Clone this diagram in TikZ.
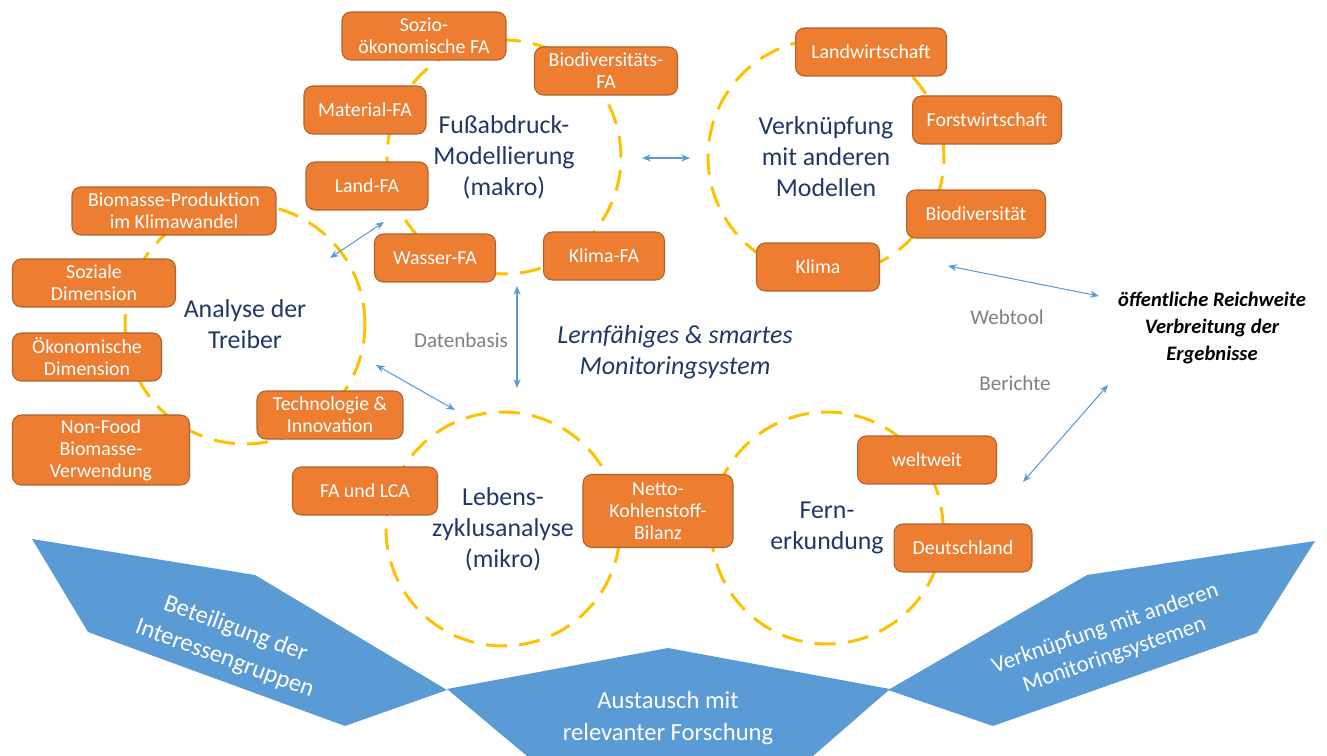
\documentclass[tikz,border=0pt]{standalone}
\usepackage{fontspec}
\setmainfont{Carlito}
\usetikzlibrary{arrows.meta}
\definecolor{navy}{HTML}{1F3864}
\definecolor{amber}{HTML}{FFC000}
\definecolor{orng}{HTML}{ED7D31}
\definecolor{orngline}{HTML}{B0622E}
\definecolor{sky}{HTML}{5B9BD5}
\definecolor{slate}{HTML}{808080}

\begin{document}
\begin{tikzpicture}[x=0.02cm,y=-0.02cm,
    >={Stealth[length=5pt,width=4pt]},
    ring/.style={circle,draw=amber,line width=1.7pt,
      dash pattern=on 12pt off 7pt,inner sep=0pt,text=navy,
      align=center,font=\fontsize{14.7}{17.6}\selectfont},
    fa/.style={draw=orngline,fill=orng,rounded corners=5pt,
      text=white,align=center,minimum height=0.96cm,inner sep=2pt,
      line width=0.6pt,font=\fontsize{11.3}{12.6}\selectfont},
    link/.style={sky,line width=0.6pt,<->},
    note/.style={text=slate,font=\fontsize{12}{14}\selectfont},
    bandtext/.style={text=white,align=center,
      font=\fontsize{14}{18}\selectfont}]
  \useasboundingbox (0,0) rectangle (1327,756);
  % dashed rings with their titles
  \node[ring,minimum size=4.68cm] (fuss) at (504,157)
    {Fußabdruck-\\Modellierung\\(makro)};
  \node[ring,minimum size=4.72cm] (verk) at (826,157)
    {Verknüpfung\\mit anderen\\Modellen};
  \node[ring,minimum size=4.8cm] (analyse) at (245,324)
    {Analyse der\\Treiber};
  \node[ring,minimum size=4.68cm] (lebens) at (503,529)
    {Lebens-\\zyklusanalyse\\(mikro)};
  \node[ring,minimum size=4.64cm] (fern) at (827,528)
    {Fern-\\erkundung};
  % boxes
  \node[fa,minimum width=3.28cm] (sozio) at (424,36) {Sozio-\\ökonomische FA};
  \node[fa,minimum width=2.86cm] (biofa) at (606,71) {Biodiversitäts-\\FA};
  \node[fa,minimum width=2.44cm] (material) at (365,110) {Material-FA};
  \node[fa,minimum width=2.44cm] (land) at (367,186) {Land-FA};
  \node[fa,minimum width=2.42cm] (wasser) at (435,258) {Wasser-FA};
  \node[fa,minimum width=2.42cm] (klimafa) at (604,256) {Klima-FA};
  \node[fa,minimum width=3.02cm] (landw) at (871,52) {Landwirtschaft};
  \node[fa,minimum width=2.98cm] (forst) at (987,120) {Forstwirtschaft};
  \node[fa,minimum width=2.78cm] (biodiv) at (976,214) {Biodiversität};
  \node[fa,minimum width=2.46cm] (klima) at (818,267) {Klima};
  \node[fa,minimum width=4.08cm] (biomasse) at (174,211)
    {Biomasse-Produktion\\im Klimawandel};
  \node[fa,minimum width=3.26cm] (sozial) at (94,283) {Soziale\\Dimension};
  \node[fa,minimum width=2.98cm] (oekon) at (87,357) {Ökonomische\\Dimension};
  \node[fa,minimum width=3.54cm,minimum height=1.4cm] (nonfood) at (101,450)
    {Non-Food\\Biomasse-\\Verwendung};
  \node[fa,minimum width=2.92cm] (techno) at (330,415) {Technologie \&\\Innovation};
  \node[fa,minimum width=2.9cm] (falca) at (365,491) {FA und LCA};
  \node[fa,minimum width=3.0cm,minimum height=1.46cm] (netto) at (658,511)
    {Netto-\\Kohlenstoff-\\Bilanz};
  \node[fa,minimum width=2.78cm] (welt) at (927,460) {weltweit};
  \node[fa,minimum width=2.76cm] (de) at (963,548) {Deutschland};
  % free texts
  \node[text=navy,align=center,font=\itshape\fontsize{14.8}{17.6}\selectfont]
    (smart) at (675,352) {Lernfähiges \& smartes\\Monitoringsystem};
  \node[align=center,font=\bfseries\itshape\fontsize{11.7}{15.2}\selectfont]
    (reach) at (1212,328) {öffentliche Reichweite\\Verbreitung der\\Ergebnisse};
  \node[note] (daten) at (461,340) {Datenbasis};
  \node[note] (webtool) at (1007,317) {Webtool};
  \node[note] (berichte) at (1015,383) {Berichte};
  % arrows
  \coordinate (fussR) at (642,158);  \coordinate (verkL) at (690,158);
  \coordinate (analyseT) at (330,258); \coordinate (fussL) at (384,222);
  \coordinate (fussB) at (517,286);  \coordinate (lebensT) at (517,388);
  \coordinate (analyseR) at (376,365); \coordinate (lebensL) at (455,410);
  \coordinate (verkB) at (948,266);  \coordinate (reachL) at (1099,296);
  \coordinate (reachB) at (1108,385); \coordinate (fernR) at (1023,482);
  \draw[link] (fussR) -- (verkL);
  \draw[link] (analyseT) -- (fussL);
  \draw[link] (fussB) -- (lebensT);
  \draw[link] (analyseR) -- (lebensL);
  \draw[link] (verkB) -- (reachL);
  \draw[link] (reachB) -- (fernR);
  % blue bands at the bottom
  \fill[sky] (32,539) -- (255,575) -- (447,690) -- (345,726) -- (88,632) -- cycle;
  \fill[sky] (447,689) -- (668,648) -- (890,689) -- (813,756) -- (527,756) -- cycle;
  \fill[sky] (888,690) -- (1087,575) -- (1315,541) -- (1257,633) -- (993,726) -- cycle;
  \node[bandtext,rotate=-20] (stake) at (230,644)
    {Beteiligung der\\Interessengruppen};
  \node[bandtext] (research) at (668,718) {Austausch mit\\relevanter Forschung};
  \node[bandtext,rotate=19,font=\fontsize{13}{16}\selectfont] (crossmon)
    at (1110,642) {Verknüpfung mit anderen\\Monitoringsystemen};
\end{tikzpicture}
\end{document}
